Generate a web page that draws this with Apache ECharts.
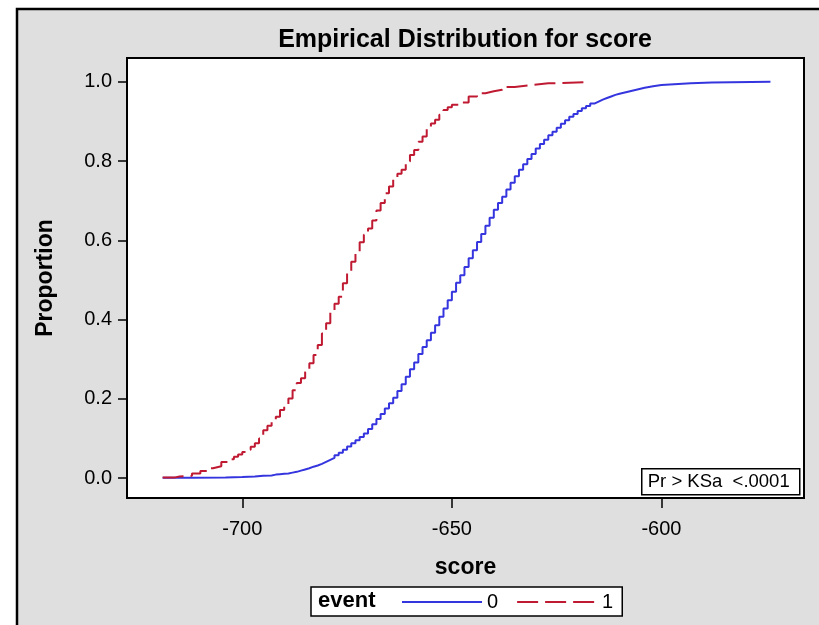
<!DOCTYPE html>
<html>
<head>
<meta charset="utf-8">
<script src="https://cdn.jsdelivr.net/npm/echarts@6/dist/echarts.min.js"></script>
<style>
html, body { margin: 0; background: #fff; }
#chart { width: 819px; height: 625px; }
</style>
</head>
<body>
<div id="chart"></div>
<script>
// ECDF of score, event = 0
const scores0 = [
  -719, -712, -704, -700, -697, -695, -693, -692, -691, -690,
  -689, -688, -687, -686, -685, -684, -683, -682, -681, -680,
  -679, -678, -677, -676, -675, -674, -673, -672, -671, -670,
  -669, -668, -667, -666, -665, -664, -663, -662, -661, -660,
  -659, -658, -657, -656, -655, -654, -653, -652, -651, -650,
  -649, -648, -647, -646, -645, -644, -643, -642, -641, -640,
  -639, -638, -637, -636, -635, -634, -633, -632, -631, -630,
  -629, -628, -627, -626, -625, -624, -623, -622, -621, -620,
  -619, -618, -617, -616, -615, -614, -613, -612, -611, -610,
  -608, -606, -604, -602, -600, -597, -593, -588, -574
];
const props0 = [
  0.001, 0.002, 0.003, 0.004, 0.006, 0.007, 0.009, 0.010, 0.011, 0.012,
  0.014, 0.016, 0.019, 0.022, 0.025, 0.029, 0.032, 0.036, 0.041, 0.046,
  0.051, 0.058, 0.064, 0.072, 0.080, 0.088, 0.096, 0.104, 0.113, 0.124,
  0.136, 0.149, 0.162, 0.176, 0.189, 0.203, 0.220, 0.237, 0.256, 0.275,
  0.292, 0.313, 0.331, 0.348, 0.367, 0.386, 0.407, 0.428, 0.449, 0.470,
  0.493, 0.512, 0.533, 0.555, 0.575, 0.596, 0.616, 0.637, 0.657, 0.677,
  0.694, 0.710, 0.728, 0.745, 0.762, 0.778, 0.792, 0.805, 0.818, 0.832,
  0.843, 0.854, 0.865, 0.874, 0.884, 0.894, 0.903, 0.912, 0.919, 0.926,
  0.933, 0.939, 0.945, 0.950, 0.955, 0.959, 0.963, 0.967, 0.970, 0.975,
  0.980, 0.985, 0.989, 0.992, 0.994, 0.996, 0.998, 1.000, 1.000
];
// ECDF of score, event = 1
const scores1 = [
  -719, -716, -715, -712, -710, -708, -707, -705, -703, -702,
  -701, -700, -699, -698, -697, -696, -695, -694, -693, -692,
  -691, -690, -689, -688, -687, -686, -685, -684, -683, -682,
  -681, -680, -679, -678, -677, -676, -675, -674, -673, -672,
  -671, -670, -669, -668, -667, -666, -665, -664, -663, -662,
  -661, -660, -659, -658, -657, -656, -655, -654, -653, -652,
  -651, -650, -648, -646, -644, -642, -640, -638, -635, -631,
  -627, -618
];
const props1 = [
  0.002, 0.004, 0.006, 0.012, 0.018, 0.025, 0.030, 0.041, 0.048, 0.054,
  0.060, 0.066, 0.072, 0.079, 0.088, 0.100, 0.121, 0.132, 0.142, 0.155,
  0.172, 0.185, 0.201, 0.222, 0.240, 0.252, 0.268, 0.290, 0.311, 0.336,
  0.365, 0.391, 0.424, 0.440, 0.458, 0.492, 0.517, 0.546, 0.571, 0.595,
  0.614, 0.630, 0.650, 0.675, 0.694, 0.719, 0.736, 0.757, 0.768, 0.778,
  0.799, 0.815, 0.828, 0.849, 0.862, 0.887, 0.895, 0.904, 0.917, 0.929,
  0.936, 0.942, 0.948, 0.963, 0.971, 0.976, 0.980, 0.987, 0.992, 0.996,
  0.999, 1.000
];
const xTicks = [-700, -650, -600];
const yTicks = [0, 0.2, 0.4, 0.6, 0.8, 1.0];

const font = "'Liberation Sans', Arial, sans-serif";
const chart = echarts.init(document.getElementById('chart'));

const option = {
  backgroundColor: '#dfdfdf',
  animation: false,
  title: {
    text: 'Empirical Distribution for score',
    left: 460,
    top: 23,
    textAlign: 'center',
    textStyle: { fontFamily: font, fontSize: 25, fontWeight: 'bold', color: '#000' }
  },
  grid: {
    left: 127,
    top: 58,
    right: 15,
    bottom: 127,
    show: true,
    backgroundColor: '#fff',
    borderColor: '#000',
    borderWidth: 2
  },
  xAxis: {
    type: 'value',
    min: -727.5,
    max: -566,
    name: 'score',
    nameLocation: 'middle',
    nameGap: 58,
    nameTextStyle: { fontFamily: font, fontSize: 23, fontWeight: 'bold', color: '#000' },
    axisLine: { show: false, onZero: false },
    axisTick: { show: true, length: 10, customValues: xTicks, lineStyle: { color: '#000', width: 1.5 } },
    axisLabel: { customValues: xTicks, margin: 21, fontFamily: font, fontSize: 20, color: '#000' },
    splitLine: { show: false }
  },
  yAxis: {
    type: 'value',
    min: -0.05,
    max: 1.06,
    name: 'Proportion',
    nameLocation: 'middle',
    nameGap: 70,
    nameTextStyle: { fontFamily: font, fontSize: 23, fontWeight: 'bold', color: '#000' },
    axisLine: { show: false, onZero: false },
    axisTick: { show: true, length: 9, customValues: yTicks, lineStyle: { color: '#000', width: 1.5 } },
    axisLabel: {
      customValues: yTicks,
      margin: 15,
      fontFamily: font,
      fontSize: 20,
      color: '#000',
      formatter: v => v.toFixed(1)
    },
    splitLine: { show: false }
  },
  legend: {
    left: 311,
    top: 587,
    orient: 'horizontal',
    padding: [5, 9, 4, 90],
    itemWidth: 80,
    itemHeight: 14,
    itemGap: 18,
    backgroundColor: '#fff',
    borderColor: '#000',
    borderWidth: 1.5,
    borderRadius: 0,
    itemStyle: { opacity: 0 },
    textStyle: { fontFamily: font, fontSize: 20, color: '#000' },
    data: ['0', '1']
  },
  series: [
    {
      name: '0',
      type: 'line',
      step: 'end',
      symbol: 'none',
      data: scores0.map((s, i) => [s, props0[i]]),
      lineStyle: { color: '#3535df', width: 2 },
      itemStyle: { color: '#3535df' },
      z: 3
    },
    {
      name: '1',
      type: 'line',
      step: 'end',
      symbol: 'none',
      data: scores1.map((s, i) => [s, props1[i]]),
      lineStyle: { color: '#c01a32', width: 2, type: [21, 7] },
      itemStyle: { color: '#c01a32' },
      z: 4
    }
  ],
  graphic: [
    // white margin outside the gray frame
    { type: 'rect', shape: { x: 0, y: 0, width: 819, height: 8 }, style: { fill: '#fff' }, silent: true },
    { type: 'rect', shape: { x: 0, y: 0, width: 16, height: 625 }, style: { fill: '#fff' }, silent: true },
    {
      type: 'polyline',
      shape: { points: [[17, 625], [17, 9], [819, 9]] },
      style: { stroke: '#000', lineWidth: 2.5, fill: null },
      silent: true
    },
    // legend title
    {
      type: 'text',
      left: 318,
      top: 590,
      style: { text: 'event', font: "bold 22px 'Liberation Sans', Arial, sans-serif", fill: '#000' },
      z: 10
    },
    // KS test inset
    {
      type: 'group',
      left: 641,
      top: 468,
      z: 10,
      children: [
        { type: 'rect', shape: { x: 0, y: 0, width: 158, height: 26 }, style: { fill: '#fff', stroke: '#000', lineWidth: 1.5 } },
        {
          type: 'text',
          x: 6,
          y: 13,
          style: {
            text: 'Pr > KSa  <.0001',
            font: "18.5px 'Liberation Sans', Arial, sans-serif",
            fill: '#000',
            verticalAlign: 'middle'
          }
        }
      ]
    }
  ]
};
chart.setOption(option);
</script>
</body>
</html>
